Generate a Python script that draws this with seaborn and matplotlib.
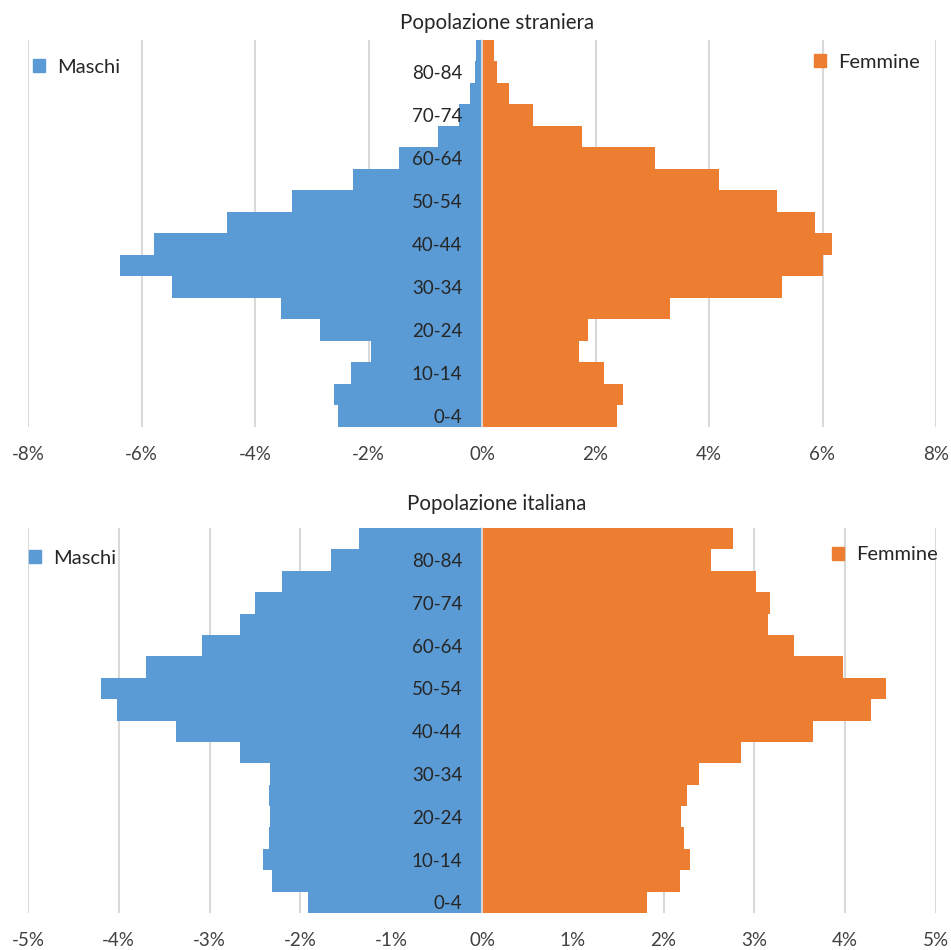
import pandas as pd
import seaborn as sns
from matplotlib import pyplot as plt
from matplotlib.patches import Patch

sns.set_style("white")
plt.rcParams['font.family'] = ['Lato', 'DejaVu Sans']

# age groups, youngest first
ages = ["0-4", "5-9", "10-14", "15-19", "20-24", "25-29", "30-34", "35-39", "40-44",
        "45-49", "50-54", "55-59", "60-64", "65-69", "70-74", "75-79", "80-84", "85+"]

# percent of population, same order as ages
straniera_m = [2.54, 2.61, 2.31, 1.96, 2.85, 3.54, 5.46, 6.38, 5.78,
               4.49, 3.35, 2.27, 1.46, 0.78, 0.41, 0.22, 0.13, 0.10]
straniera_f = [2.38, 2.48, 2.15, 1.71, 1.87, 3.32, 5.29, 6.00, 6.16,
               5.86, 5.19, 4.18, 3.05, 1.77, 0.89, 0.48, 0.27, 0.22]
italiana_m = [1.92, 2.31, 2.41, 2.35, 2.33, 2.35, 2.33, 2.67, 3.37,
              4.02, 4.20, 3.70, 3.08, 2.66, 2.50, 2.20, 1.66, 1.35]
italiana_f = [1.82, 2.18, 2.29, 2.22, 2.19, 2.26, 2.39, 2.85, 3.64,
              4.28, 4.45, 3.98, 3.44, 3.15, 3.17, 3.02, 2.52, 2.76]

titles = ["Popolazione straniera", "Popolazione italiana"]
limits = [8, 5]
steps = [2, 1]

blue = "#5B9BD5"
orange = "#ED7D31"


def make_df(m, f):
    rows = []
    for a, v in zip(ages, m):
        rows.append({"age": a, "pct": -v, "sesso": "Maschi"})
    for a, v in zip(ages, f):
        rows.append({"age": a, "pct": v, "sesso": "Femmine"})
    return pd.DataFrame(rows)


fig = plt.figure(figsize=(9.51, 9.50), dpi=100)
W, H = 951, 950
ax1 = fig.add_axes([28 / W, 1 - 427 / H, 908 / W, 387 / H])
ax2 = fig.add_axes([28 / W, 1 - 913 / H, 908 / W, 385 / H])

data = [(straniera_m, straniera_f), (italiana_m, italiana_f)]
# legend anchors in axes fraction: (maschi x, y), (femmine x, y)
leg_pos = [((0.0055, 0.930), (0.9824, 0.943)),
           ((0.0011, 0.922), (1.0022, 0.930))]
title_pad = [8, 13]
fs = 13.5
lfs = 14.5

for ax, (m, f), title, lim, step, lp, tp in zip([ax1, ax2], data, titles, limits, steps,
                                               leg_pos, title_pad):
    df = make_df(m, f)
    sns.barplot(data=df, y="age", x="pct", hue="sesso", order=ages[::-1],
                hue_order=["Maschi", "Femmine"], palette=[blue, orange],
                dodge=False, width=1, errorbar=None, legend=False, saturation=1,
                linewidth=0, ax=ax)
    ax.set_xlim(-lim, lim)
    ax.spines["left"].set_position(("data", 0))
    for name, s in ax.spines.items():
        s.set_visible(name == "left")
    ax.spines["left"].set_color("#e3e3e3")
    ax.spines["left"].set_linewidth(1.2)
    ticks = list(range(-lim, lim + 1, step))
    ax.set_xticks(ticks)
    ax.set_xticklabels([f"{t}%" for t in ticks], fontsize=fs, color="#404040")
    ax.tick_params(axis="x", length=0, pad=14)
    ax.grid(axis="x", color="#d9d9d9", linewidth=1.5)
    ax.set_axisbelow(True)
    # age labels every other group
    labels = [a if i % 2 == 0 and a != "85+" else "" for i, a in enumerate(ages)][::-1]
    ax.set_yticks(range(len(ages)))
    ax.set_yticklabels(labels, fontsize=fs, color="#262626")
    ax.tick_params(axis="y", length=0, pad=14)
    ax.yaxis.set_zorder(5)
    ax.set_xlabel("")
    ax.set_ylabel("")
    ax.set_title(title, fontsize=14.8, color="#262626", pad=tp, x=0.5165)
    lm = ax.legend(handles=[Patch(color=blue, label="Maschi")], loc="center left",
                   bbox_to_anchor=lp[0], frameon=False, fontsize=lfs, borderpad=0,
                   handlelength=0.6, handleheight=0.6, handletextpad=0.6, borderaxespad=0)
    ax.add_artist(lm)
    ax.legend(handles=[Patch(color=orange, label="Femmine")], loc="center right",
              bbox_to_anchor=lp[1], frameon=False, fontsize=lfs, borderpad=0,
              handlelength=0.6, handleheight=0.6, handletextpad=0.6, borderaxespad=0)

plt.savefig("out.png", dpi=100)
